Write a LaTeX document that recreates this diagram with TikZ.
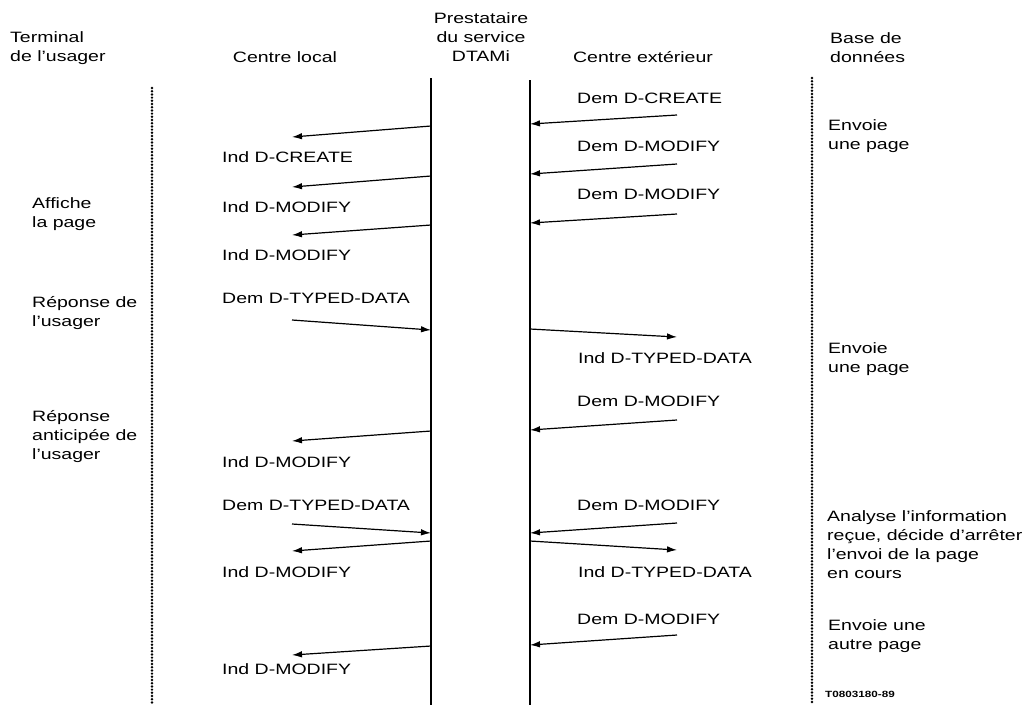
\documentclass[tikz,border=0pt]{standalone}
\usepackage{fontspec}
\setmainfont{Liberation Sans}[FakeStretch=1.3]
\usetikzlibrary{arrows.meta}

\begin{document}
\begin{tikzpicture}[%
      x=1pt, y=-1pt,
      life/.style={line width=1.3pt},
      dots/.style={line width=2.7pt, line cap=round, dash pattern=on 0pt off 3.2pt},
      msg/.style={line width=1.2pt, -{Latex[length=10pt,width=6.5pt]}},
      lbl/.style={anchor=west, inner sep=0pt, font=\fontsize{15}{18}\selectfont},
      col/.style={anchor=west, inner sep=0pt, align=left, font=\fontsize{15}{19}\selectfont},
      ]
      \useasboundingbox (0,0) rectangle (1022,716);

      % headings
      \node [col] (term) at (10,48) {Terminal\\de l'usager};
      \node [col, anchor=center] (loc) at (285,57) {Centre local};
      \node [col, anchor=center, align=center] (prest) at (481,37) {Prestataire\\du service\\DTAMi};
      \node [col, anchor=center] (ext) at (643,57) {Centre extérieur};
      \node [col] (base) at (830,48) {Base de\\données};

      % lifelines
      \coordinate (utop) at (152,88);  \coordinate (ubot) at (152,705);
      \coordinate (ltop) at (431,78);  \coordinate (lbot) at (431,705);
      \coordinate (rtop) at (530,80);  \coordinate (rbot) at (530,705);
      \coordinate (btop) at (812,78);  \coordinate (bbot) at (812,705);
      \draw [dots] (utop) -- (ubot);
      \draw [dots] (btop) -- (bbot);
      \draw [life] (ltop) -- (lbot);
      \draw [life] (rtop) -- (rbot);

      % centre local side
      \coordinate (l1) at (431,126); \coordinate (u1) at (292,137);
      \coordinate (l2) at (431,176); \coordinate (u2) at (292,187);
      \coordinate (l3) at (431,225); \coordinate (u3) at (292,235);
      \coordinate (u4) at (292,320); \coordinate (l4) at (431,330);
      \coordinate (l5) at (431,431); \coordinate (u5) at (292,441);
      \coordinate (u6) at (292,524); \coordinate (l6) at (431,533);
      \coordinate (l7) at (431,541); \coordinate (u7) at (292,551);
      \coordinate (l8) at (431,646); \coordinate (u8) at (292,655);
      \draw [msg] (l1) -- (u1);
      \draw [msg] (l2) -- (u2);
      \draw [msg] (l3) -- (u3);
      \draw [msg] (u4) -- (l4);
      \draw [msg] (l5) -- (u5);
      \draw [msg] (u6) -- (l6);
      \draw [msg] (l7) -- (u7);
      \draw [msg] (l8) -- (u8);

      \node [lbl] (i1) at (222,157) {Ind D-CREATE};
      \node [lbl] (i2) at (222,207) {Ind D-MODIFY};
      \node [lbl] (i3) at (222,255) {Ind D-MODIFY};
      \node [lbl] (d4) at (222,298) {Dem D-TYPED-DATA};
      \node [lbl] (i5) at (222,462) {Ind D-MODIFY};
      \node [lbl] (d6) at (222,505) {Dem D-TYPED-DATA};
      \node [lbl] (i7) at (222,572) {Ind D-MODIFY};
      \node [lbl] (i8) at (222,669) {Ind D-MODIFY};

      % centre exterieur side
      \coordinate (e1) at (677,115); \coordinate (r1) at (530,124);
      \coordinate (e2) at (677,164); \coordinate (r2) at (530,174);
      \coordinate (e3) at (677,214); \coordinate (r3) at (530,223);
      \coordinate (r4) at (530,329); \coordinate (e4) at (677,337);
      \coordinate (e5) at (677,420); \coordinate (r5) at (530,430);
      \coordinate (e6) at (677,523); \coordinate (r6) at (530,533);
      \coordinate (r7) at (530,541); \coordinate (e7) at (677,550);
      \coordinate (e8) at (677,635); \coordinate (r8) at (530,645);
      \draw [msg] (e1) -- (r1);
      \draw [msg] (e2) -- (r2);
      \draw [msg] (e3) -- (r3);
      \draw [msg] (r4) -- (e4);
      \draw [msg] (e5) -- (r5);
      \draw [msg] (e6) -- (r6);
      \draw [msg] (r7) -- (e7);
      \draw [msg] (e8) -- (r8);

      \node [lbl] (x1) at (577,98) {Dem D-CREATE};
      \node [lbl] (x2) at (577,146) {Dem D-MODIFY};
      \node [lbl] (x3) at (577,194) {Dem D-MODIFY};
      \node [lbl] (x4) at (578,358) {Ind D-TYPED-DATA};
      \node [lbl] (x5) at (577,401) {Dem D-MODIFY};
      \node [lbl] (x6) at (577,505) {Dem D-MODIFY};
      \node [lbl] (x7) at (578,572) {Ind D-TYPED-DATA};
      \node [lbl] (x8) at (577,619) {Dem D-MODIFY};

      % usager
      \node [col] (aff) at (32,214) {Affiche\\la page};
      \node [col] (rep) at (32,313) {Réponse de\\l'usager};
      \node [col] (ant) at (32,437) {Réponse\\anticipée de\\l'usager};

      % base de donnees
      \node [col] (env1) at (828,136) {Envoie\\une page};
      \node [col] (env2) at (828,359) {Envoie\\une page};
      \node [col] (ana) at (827,545) {Analyse l'information\\reçue, décide d'arrêter\\l'envoi de la page\\en cours};
      \node [col] (env3) at (828,636) {Envoie une\\autre page};
      \node [inner sep=0pt, font=\fontsize{9}{10}\selectfont\bfseries] (ref) at (860,694) {T0803180-89};
\end{tikzpicture}
\end{document}
